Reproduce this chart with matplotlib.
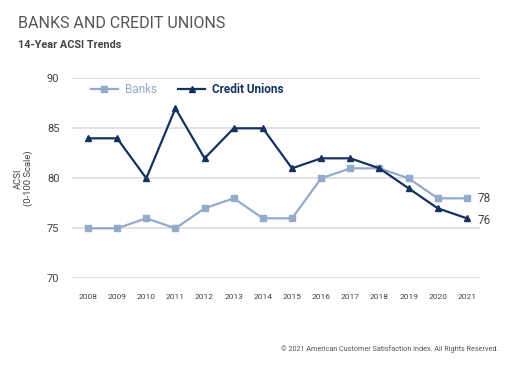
import matplotlib
matplotlib.use("Agg")
import matplotlib.pyplot as plt

plt.rcParams["font.family"] = ["Roboto", "DejaVu Sans"]

years = [2008, 2009, 2010, 2011, 2012, 2013, 2014,
         2015, 2016, 2017, 2018, 2019, 2020, 2021]
banks = [75, 75, 76, 75, 77, 78, 76, 76, 80, 81, 81, 80, 78, 78]
credit_unions = [84, 84, 80, 87, 82, 85, 85, 81, 82, 82, 81, 79, 77, 76]
y_ticks = [70, 75, 80, 85, 90]

BANK_COLOR = "#94aacb"
CU_COLOR = "#15325e"
TEXT = "#444444"

fig = plt.figure(figsize=(5.16, 3.68), dpi=100)
ax = fig.add_axes([0.1395, 0.2437, 0.7907, 0.5435])

ax.plot(years, banks, color=BANK_COLOR, marker="s", markersize=4,
        linewidth=1.6, label="Banks")
ax.plot(years, credit_unions, color=CU_COLOR, marker="^", markersize=4.5,
        linewidth=1.6, label="Credit Unions")

ax.set_xlim(2007.45, 2021.45)
ax.set_ylim(70, 90)
ax.set_yticks(y_ticks)
ax.set_xticks(years)
ax.set_xticklabels([str(y) for y in years], fontsize=6, color=TEXT)
ax.set_yticklabels([str(v) for v in y_ticks], fontsize=8, color=TEXT)
ax.tick_params(axis="both", length=0)
ax.tick_params(axis="y", pad=9)
ax.tick_params(axis="x", pad=11)
ax.grid(True, axis="y", color="#e2e2e2", linewidth=1.4)
ax.set_axisbelow(True)
for s in ax.spines.values():
    s.set_visible(False)

ax.set_ylabel("ACSI\n(0-100 Scale)", fontsize=6.8, color=TEXT, labelpad=10,
              linespacing=1.1)

# end labels
ax.text(years[-1] + 0.38, banks[-1], f"{banks[-1]}", fontsize=8.5,
        color=TEXT, va="center", ha="left")
ax.text(years[-1] + 0.38, credit_unions[-1] - 0.2, f"{credit_unions[-1]}",
        fontsize=8.5, color=TEXT, va="center", ha="left")

leg = ax.legend(loc="upper left", bbox_to_anchor=(0.02, 1.03), ncol=2,
                frameon=False, fontsize=8.5, handlelength=2.3,
                columnspacing=1.8, handletextpad=0.6)
for txt, col, w in zip(leg.get_texts(), [BANK_COLOR, CU_COLOR],
                       ["normal", "bold"]):
    txt.set_color(col)
    txt.set_fontweight(w)

fig.text(0.035, 0.935, "BANKS AND CREDIT UNIONS", fontsize=11.5,
         color="#555555", va="center", ha="left")
fig.text(0.035, 0.878, "14-Year ACSI Trends", fontsize=7.8,
         fontweight="bold", color="#444444", va="center", ha="left")
fig.text(0.965, 0.052,
         "\u00a9 2021 American Customer Satisfaction Index. All Rights Reserved.",
         fontsize=5.2, color="#555555", ha="right", va="center")

fig.savefig("out.png", dpi=100)
